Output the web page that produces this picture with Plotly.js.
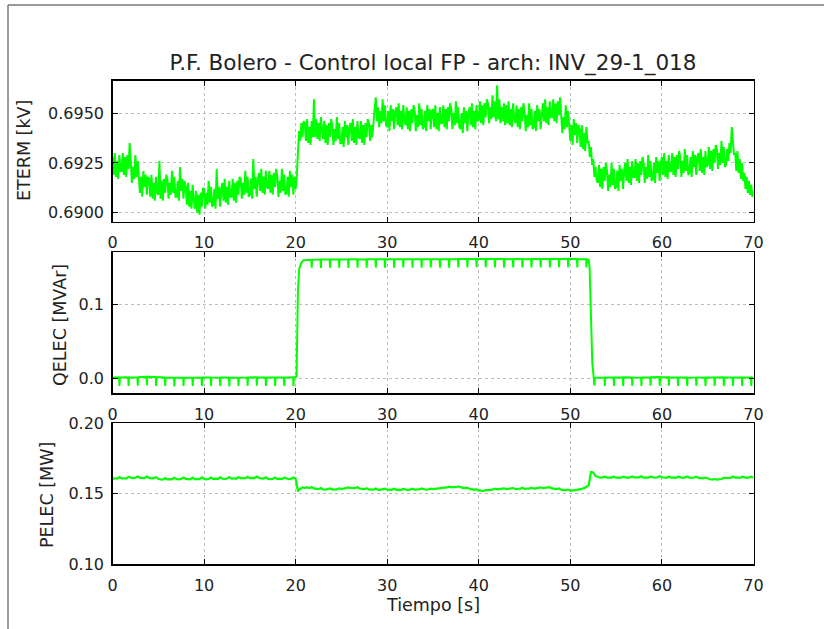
<!DOCTYPE html>
<html>
<head>
<meta charset="utf-8">
<script src="https://cdn.plot.ly/plotly-3.0.1.min.js"></script>
<style>
  html, body { margin: 0; padding: 0; background: #ffffff; }
  #chart { width: 824px; height: 629px; }
</style>
</head>
<body>
<div id="chart"></div>
<script>
// Sampling steps of the recorded signals (seconds)
const ETERM_STEP = 0.125;
const PELEC_STEP = 0.25;

// Tick values
const xTicks = [0, 10, 20, 30, 40, 50, 60, 70];
const etermTicks = [0.6900, 0.6925, 0.6950];
const qelecTicks = [0.0, 0.1];
const pelecTicks = [0.10, 0.15, 0.20];

// ETERM [kV], one row per second (8 samples per second)
const eterm = [
  0.6928,0.6919,0.6930,0.6918,0.6926,0.6917,0.6929,0.6921,
  0.6921,0.6930,0.6919,0.6928,0.6918,0.6929,0.6922,0.6935,
  0.6925,0.6915,0.6923,0.6917,0.6929,0.6918,0.6926,0.6916,
  0.6910,0.6918,0.6908,0.6921,0.6913,0.6919,0.6909,0.6918,
  0.6917,0.6908,0.6919,0.6907,0.6915,0.6906,0.6918,0.6910,
  0.6909,0.6926,0.6907,0.6916,0.6906,0.6917,0.6910,0.6919,
  0.6917,0.6907,0.6915,0.6909,0.6921,0.6910,0.6918,0.6908,
  0.6908,0.6916,0.6906,0.6923,0.6911,0.6917,0.6907,0.6916,
  0.6913,0.6904,0.6915,0.6903,0.6911,0.6902,0.6914,0.6906,
  0.6902,0.6911,0.6900,0.6909,0.6899,0.6910,0.6903,0.6912,
  0.6912,0.6902,0.6910,0.6904,0.6916,0.6905,0.6913,0.6903,
  0.6904,0.6912,0.6902,0.6922,0.6907,0.6913,0.6903,0.6912,
  0.6915,0.6906,0.6917,0.6905,0.6913,0.6904,0.6916,0.6908,
  0.6908,0.6917,0.6906,0.6915,0.6905,0.6916,0.6909,0.6918,
  0.6917,0.6907,0.6915,0.6909,0.6921,0.6910,0.6918,0.6908,
  0.6909,0.6917,0.6907,0.6927,0.6912,0.6918,0.6908,0.6917,
  0.6920,0.6911,0.6922,0.6910,0.6918,0.6909,0.6921,0.6913,
  0.6912,0.6921,0.6910,0.6919,0.6909,0.6920,0.6913,0.6922,
  0.6918,0.6908,0.6916,0.6910,0.6922,0.6911,0.6919,0.6909,
  0.6910,0.6918,0.6908,0.6921,0.6913,0.6919,0.6909,0.6918,
  0.6912,0.6919,0.6930,0.6941,0.6936,0.6945,0.6938,0.6946,
  0.6945,0.6936,0.6947,0.6935,0.6943,0.6934,0.6946,0.6938,
  0.6957,0.6938,0.6947,0.6937,0.6945,0.6936,0.6948,0.6940,
  0.6937,0.6946,0.6935,0.6944,0.6934,0.6945,0.6938,0.6947,
  0.6944,0.6934,0.6942,0.6936,0.6948,0.6937,0.6945,0.6935,
  0.6935,0.6943,0.6933,0.6946,0.6938,0.6944,0.6934,0.6943,
  0.6945,0.6936,0.6947,0.6935,0.6943,0.6934,0.6946,0.6938,
  0.6937,0.6946,0.6935,0.6944,0.6934,0.6945,0.6938,0.6947,
  0.6945,0.6936,0.6944,0.6938,0.6947,0.6952,0.6958,0.6946,
  0.6953,0.6943,0.6951,0.6945,0.6957,0.6946,0.6954,0.6944,
  0.6943,0.6951,0.6941,0.6954,0.6946,0.6952,0.6942,0.6951,
  0.6953,0.6944,0.6955,0.6943,0.6951,0.6942,0.6954,0.6946,
  0.6944,0.6953,0.6942,0.6951,0.6941,0.6952,0.6945,0.6954,
  0.6951,0.6941,0.6949,0.6943,0.6955,0.6944,0.6952,0.6942,
  0.6943,0.6951,0.6941,0.6954,0.6946,0.6952,0.6942,0.6951,
  0.6952,0.6943,0.6954,0.6942,0.6950,0.6941,0.6953,0.6945,
  0.6945,0.6954,0.6943,0.6952,0.6942,0.6953,0.6946,0.6955,
  0.6952,0.6942,0.6950,0.6944,0.6956,0.6945,0.6953,0.6943,
  0.6942,0.6950,0.6940,0.6953,0.6945,0.6951,0.6941,0.6950,
  0.6953,0.6944,0.6955,0.6943,0.6951,0.6942,0.6954,0.6946,
  0.6947,0.6956,0.6945,0.6954,0.6944,0.6955,0.6948,0.6957,
  0.6955,0.6945,0.6953,0.6947,0.6959,0.6948,0.6956,0.6946,
  0.6964,0.6947,0.6957,0.6945,0.6953,0.6946,0.6955,0.6944,
  0.6954,0.6945,0.6956,0.6944,0.6952,0.6943,0.6955,0.6947,
  0.6945,0.6954,0.6943,0.6952,0.6942,0.6953,0.6946,0.6955,
  0.6951,0.6941,0.6949,0.6943,0.6955,0.6944,0.6952,0.6942,
  0.6943,0.6951,0.6941,0.6954,0.6946,0.6952,0.6942,0.6951,
  0.6955,0.6946,0.6957,0.6945,0.6953,0.6944,0.6956,0.6948,
  0.6948,0.6957,0.6946,0.6955,0.6945,0.6956,0.6949,0.6958,
  0.6950,0.6940,0.6948,0.6942,0.6954,0.6943,0.6951,0.6941,
  0.6936,0.6944,0.6934,0.6947,0.6939,0.6945,0.6935,0.6944,
  0.6942,0.6933,0.6944,0.6932,0.6940,0.6931,0.6943,0.6935,
  0.6936,0.6928,0.6933,0.6924,0.6927,0.6918,0.6923,0.6916,
  0.6915,0.6924,0.6913,0.6922,0.6912,0.6923,0.6916,0.6925,
  0.6921,0.6911,0.6919,0.6913,0.6925,0.6914,0.6922,0.6912,
  0.6913,0.6921,0.6911,0.6924,0.6916,0.6922,0.6912,0.6921,
  0.6925,0.6916,0.6927,0.6915,0.6923,0.6914,0.6926,0.6918,
  0.6918,0.6927,0.6916,0.6925,0.6915,0.6926,0.6919,0.6928,
  0.6925,0.6915,0.6923,0.6917,0.6929,0.6918,0.6926,0.6916,
  0.6917,0.6925,0.6915,0.6928,0.6920,0.6926,0.6916,0.6925,
  0.6928,0.6919,0.6930,0.6918,0.6926,0.6917,0.6929,0.6921,
  0.6921,0.6930,0.6919,0.6928,0.6918,0.6929,0.6922,0.6931,
  0.6928,0.6918,0.6926,0.6920,0.6932,0.6921,0.6929,0.6919,
  0.6920,0.6928,0.6918,0.6931,0.6923,0.6929,0.6919,0.6928,
  0.6930,0.6921,0.6932,0.6920,0.6928,0.6919,0.6931,0.6923,
  0.6924,0.6933,0.6922,0.6931,0.6921,0.6932,0.6925,0.6934,
  0.6932,0.6922,0.6930,0.6924,0.6936,0.6925,0.6933,0.6923,
  0.6924,0.6932,0.6926,0.6935,0.6930,0.6943,0.6934,0.6929,
  0.6930,0.6921,0.6931,0.6920,0.6927,0.6917,0.6925,0.6916,
  0.6920,0.6912,0.6918,0.6910,0.6916,0.6909,0.6914,0.6908,
  0.6911
];

// QELEC [MVAr]: sample times [s] and values, one row per second
const qelecTime = [
  0.00, 0.72, 0.76, 0.80,
  1.72, 1.76, 1.80,  2.72, 2.76, 2.80,  3.72, 3.76, 3.80,  4.72, 4.76, 4.80,
  5.72, 5.76, 5.80,  6.72, 6.76, 6.80,  7.72, 7.76, 7.80,  8.72, 8.76, 8.80,
  9.72, 9.76, 9.80,  10.72, 10.76, 10.80,  11.72, 11.76, 11.80,  12.72, 12.76, 12.80,
  13.72, 13.76, 13.80,  14.72, 14.76, 14.80,  15.72, 15.76, 15.80,  16.72, 16.76, 16.80,
  17.72, 17.76, 17.80,  18.72, 18.76, 18.80,  19.72, 19.76, 19.80,
  20.10, 20.25, 20.40, 20.60, 20.85,
  21.72, 21.76, 21.80,  22.72, 22.76, 22.80,  23.72, 23.76, 23.80,  24.72, 24.76, 24.80,
  25.72, 25.76, 25.80,  26.72, 26.76, 26.80,  27.72, 27.76, 27.80,  28.72, 28.76, 28.80,
  29.72, 29.76, 29.80,  30.72, 30.76, 30.80,  31.72, 31.76, 31.80,  32.72, 32.76, 32.80,
  33.72, 33.76, 33.80,  34.72, 34.76, 34.80,  35.72, 35.76, 35.80,  36.72, 36.76, 36.80,
  37.72, 37.76, 37.80,  38.72, 38.76, 38.80,  39.72, 39.76, 39.80,  40.72, 40.76, 40.80,
  41.72, 41.76, 41.80,  42.72, 42.76, 42.80,  43.72, 43.76, 43.80,  44.72, 44.76, 44.80,
  45.72, 45.76, 45.80,  46.72, 46.76, 46.80,  47.72, 47.76, 47.80,  48.72, 48.76, 48.80,
  49.72, 49.76, 49.80,  50.72, 50.76, 50.80,  51.72, 51.76, 51.80,
  52.00, 52.10, 52.25, 52.40, 52.55, 52.62, 52.68,
  53.72, 53.76, 53.80,  54.72, 54.76, 54.80,  55.72, 55.76, 55.80,  56.72, 56.76, 56.80,
  57.72, 57.76, 57.80,  58.72, 58.76, 58.80,  59.72, 59.76, 59.80,  60.72, 60.76, 60.80,
  61.72, 61.76, 61.80,  62.72, 62.76, 62.80,  63.72, 63.76, 63.80,  64.72, 64.76, 64.80,
  65.72, 65.76, 65.80,  66.72, 66.76, 66.80,  67.72, 67.76, 67.80,  68.72, 68.76, 68.80,
  69.72, 69.76, 69.80,
  70.00
];
const qelec = [
  0.0010, 0.0012, -0.0105, 0.0012,
  0.0013, -0.0105, 0.0012,  0.0015, -0.0100, 0.0016,  0.0020, -0.0095, 0.0020,  0.0018, -0.0105, 0.0016,
  0.0012, -0.0105, 0.0010,  0.0008, -0.0110, 0.0007,  0.0006, -0.0105, 0.0007,  0.0008, -0.0105, 0.0008,
  0.0010, -0.0105, 0.0010,  0.0010, -0.0105, 0.0009,  0.0010, -0.0105, 0.0011,  0.0010, -0.0110, 0.0009,
  0.0008, -0.0105, 0.0009,  0.0011, -0.0105, 0.0012,  0.0013, -0.0100, 0.0012,  0.0011, -0.0105, 0.0010,
  0.0010, -0.0105, 0.0011,  0.0010, -0.0105, 0.0010,  0.0011, -0.0105, 0.0010,
  0.0020, 0.1200, 0.1480, 0.1555, 0.1595,
  0.1603, 0.1495, 0.1604,  0.1605, 0.1490, 0.1606,  0.1606, 0.1495, 0.1607,  0.1607, 0.1495, 0.1606,
  0.1607, 0.1493, 0.1608,  0.1608, 0.1495, 0.1607,  0.1607, 0.1495, 0.1608,  0.1608, 0.1497, 0.1609,
  0.1609, 0.1495, 0.1608,  0.1608, 0.1495, 0.1609,  0.1609, 0.1497, 0.1608,  0.1609, 0.1495, 0.1610,
  0.1610, 0.1495, 0.1609,  0.1609, 0.1497, 0.1610,  0.1610, 0.1495, 0.1609,  0.1609, 0.1495, 0.1610,
  0.1610, 0.1497, 0.1611,  0.1611, 0.1498, 0.1612,  0.1612, 0.1500, 0.1613,  0.1613, 0.1500, 0.1612,
  0.1612, 0.1498, 0.1611,  0.1611, 0.1497, 0.1611,  0.1610, 0.1497, 0.1611,  0.1611, 0.1498, 0.1610,
  0.1611, 0.1497, 0.1612,  0.1612, 0.1499, 0.1612,  0.1613, 0.1499, 0.1612,  0.1613, 0.1500, 0.1613,
  0.1613, 0.1500, 0.1614,  0.1613, 0.1499, 0.1612,  0.1610, 0.1497, 0.1609,
  0.1600, 0.1500, 0.0850, 0.0200, 0.0020, -0.0095, 0.0008,
  0.0010, -0.0105, 0.0012,  0.0012, -0.0105, 0.0011,  0.0011, -0.0105, 0.0012,  0.0010, -0.0105, 0.0009,
  0.0011, -0.0105, 0.0012,  0.0015, -0.0100, 0.0015,  0.0016, -0.0100, 0.0015,  0.0014, -0.0100, 0.0013,
  0.0012, -0.0105, 0.0012,  0.0011, -0.0105, 0.0010,  0.0009, -0.0105, 0.0010,  0.0009, -0.0105, 0.0010,
  0.0011, -0.0105, 0.0012,  0.0013, -0.0105, 0.0012,  0.0011, -0.0105, 0.0012,  0.0011, -0.0105, 0.0010,
  0.0011, -0.0105, 0.0012,
  0.0005
];

// PELEC [MW], one row per second (4 samples per second)
const pelec = [
  0.1606, 0.1610, 0.1608, 0.1618,
  0.1610, 0.1612, 0.1609, 0.1620,
  0.1613, 0.1611, 0.1614, 0.1622,
  0.1612, 0.1614, 0.1611, 0.1624,
  0.1613, 0.1610, 0.1611, 0.1618,
  0.1606, 0.1602, 0.1600, 0.1612,
  0.1602, 0.1604, 0.1603, 0.1614,
  0.1605, 0.1603, 0.1606, 0.1616,
  0.1606, 0.1604, 0.1602, 0.1615,
  0.1603, 0.1606, 0.1604, 0.1616,
  0.1605, 0.1603, 0.1606, 0.1615,
  0.1604, 0.1607, 0.1605, 0.1617,
  0.1607, 0.1605, 0.1608, 0.1618,
  0.1608, 0.1610, 0.1607, 0.1619,
  0.1610, 0.1612, 0.1609, 0.1621,
  0.1611, 0.1613, 0.1612, 0.1622,
  0.1612, 0.1610, 0.1608, 0.1617,
  0.1606, 0.1604, 0.1606, 0.1615,
  0.1605, 0.1607, 0.1604, 0.1614,
  0.1606, 0.1604, 0.1607, 0.1616,
  0.1608, 0.1518, 0.1535, 0.1545,
  0.1542, 0.1546, 0.1540, 0.1548,
  0.1538, 0.1535, 0.1533, 0.1541,
  0.1531, 0.1530, 0.1532, 0.1538,
  0.1530, 0.1532, 0.1531, 0.1539,
  0.1535, 0.1537, 0.1540, 0.1545,
  0.1541, 0.1543, 0.1540, 0.1548,
  0.1537, 0.1535, 0.1533, 0.1540,
  0.1530, 0.1532, 0.1529, 0.1538,
  0.1530, 0.1528, 0.1531, 0.1537,
  0.1529, 0.1531, 0.1528, 0.1536,
  0.1528, 0.1530, 0.1527, 0.1535,
  0.1529, 0.1527, 0.1530, 0.1536,
  0.1530, 0.1528, 0.1531, 0.1538,
  0.1531, 0.1529, 0.1532, 0.1537,
  0.1533, 0.1535, 0.1534, 0.1541,
  0.1540, 0.1543, 0.1545, 0.1550,
  0.1546, 0.1548, 0.1547, 0.1553,
  0.1545, 0.1542, 0.1540, 0.1544,
  0.1535, 0.1532, 0.1528, 0.1533,
  0.1524, 0.1522, 0.1521, 0.1526,
  0.1525, 0.1528, 0.1530, 0.1536,
  0.1531, 0.1533, 0.1532, 0.1539,
  0.1533, 0.1535, 0.1534, 0.1541,
  0.1534, 0.1536, 0.1535, 0.1543,
  0.1535, 0.1537, 0.1536, 0.1544,
  0.1537, 0.1539, 0.1540, 0.1546,
  0.1541, 0.1543, 0.1541, 0.1547,
  0.1538, 0.1535, 0.1533, 0.1538,
  0.1529, 0.1527, 0.1525, 0.1530,
  0.1523, 0.1522, 0.1524, 0.1528,
  0.1530, 0.1535, 0.1540, 0.1548,
  0.1560, 0.1655, 0.1652, 0.1625,
  0.1617, 0.1614, 0.1616, 0.1622,
  0.1615, 0.1613, 0.1615, 0.1621,
  0.1614, 0.1616, 0.1613, 0.1622,
  0.1615, 0.1613, 0.1616, 0.1623,
  0.1616, 0.1614, 0.1617, 0.1624,
  0.1615, 0.1617, 0.1614, 0.1622,
  0.1616, 0.1614, 0.1617, 0.1624,
  0.1617, 0.1615, 0.1613, 0.1622,
  0.1614, 0.1616, 0.1613, 0.1621,
  0.1615, 0.1613, 0.1616, 0.1623,
  0.1614, 0.1612, 0.1615, 0.1621,
  0.1613, 0.1611, 0.1609, 0.1615,
  0.1606, 0.1603, 0.1601, 0.1605,
  0.1600, 0.1602, 0.1605, 0.1613,
  0.1612, 0.1614, 0.1612, 0.1622,
  0.1614, 0.1616, 0.1613, 0.1621,
  0.1615, 0.1613, 0.1616, 0.1622,
  0.1614
];

const timeOf = (arr, step) => arr.map((_, i) => i * step);

const W = 824, H = 629;
const px = v => v / W;           // horizontal pixel -> paper fraction
const py = v => 1 - v / H;       // vertical pixel (from top) -> paper fraction

const FONT = 'DejaVu Sans, sans-serif';
const GREEN = '#00ff00';
const TXT = '#222222';

function xAxis(anchor) {
  return {
    anchor: anchor,
    domain: [px(112.5), px(753.5)],
    range: [0, 70],
    tickvals: xTicks,
    ticktext: xTicks.map(String),
    ticks: 'inside', ticklen: 5, tickwidth: 1, tickcolor: '#000',
    showline: true, linecolor: '#000', linewidth: 1.3, mirror: 'ticks',
    showgrid: true, gridcolor: '#bdbdbd', griddash: 'dot', gridwidth: 1,
    zeroline: false,
    ticklabelstandoff: 6,
    tickfont: { family: FONT, size: 16, color: TXT }
  };
}
function yAxis(anchor, top, bottom, range, ticks, fmt) {
  return {
    anchor: anchor,
    domain: [py(bottom), py(top)],
    range: range,
    tickvals: ticks,
    ticktext: ticks.map(v => v.toFixed(fmt)),
    ticks: 'inside', ticklen: 5, tickwidth: 1, tickcolor: '#000',
    showline: true, linecolor: '#000', linewidth: 1.3, mirror: 'ticks',
    showgrid: true, gridcolor: '#bdbdbd', griddash: 'dot', gridwidth: 1,
    zeroline: false,
    ticklabelstandoff: 4,
    tickfont: { family: FONT, size: 16, color: TXT }
  };
}

const traces = [
  { x: timeOf(eterm, ETERM_STEP), y: eterm, xaxis: 'x', yaxis: 'y', type: 'scatter', mode: 'lines',
    line: { color: GREEN, width: 2 }, name: 'ETERM' },
  { x: qelecTime, y: qelec, xaxis: 'x2', yaxis: 'y2', type: 'scatter', mode: 'lines',
    line: { color: GREEN, width: 2 }, name: 'QELEC' },
  { x: timeOf(pelec, PELEC_STEP), y: pelec, xaxis: 'x3', yaxis: 'y3', type: 'scatter', mode: 'lines',
    line: { color: GREEN, width: 2.2 }, name: 'PELEC' }
];

function yTitle(text, xPix, yPix) {
  return { text: text, xref: 'paper', yref: 'paper', x: px(xPix), y: py(yPix),
    textangle: -90, showarrow: false, xanchor: 'center', yanchor: 'middle',
    font: { family: FONT, size: 17.5, color: TXT } };
}

const layout = {
  width: W, height: H,
  margin: { l: 0, r: 0, t: 0, b: 0 },
  paper_bgcolor: '#ffffff', plot_bgcolor: '#ffffff',
  showlegend: false,
  font: { family: FONT, color: TXT },
  title: {
    text: 'P.F. Bolero - Control local FP - arch: INV_29-1_018',
    font: { family: FONT, size: 21.5, color: TXT },
    x: px(433), xanchor: 'center', xref: 'paper',
    y: py(62), yanchor: 'middle', yref: 'paper'
  },
  xaxis: xAxis('y'),
  yaxis: yAxis('x', 80.5, 221.5, [0.68956, 0.69664], etermTicks, 4),
  xaxis2: xAxis('y2'),
  yaxis2: yAxis('x2', 252.3, 393.3, [-0.0203, 0.1703], qelecTicks, 1),
  xaxis3: xAxis('y3'),
  yaxis3: yAxis('x3', 423.3, 564.3, [0.10, 0.20], pelecTicks, 2),
  annotations: [
    yTitle('ETERM [kV]', 24, 151),
    yTitle('QELEC [MVAr]', 60, 325),
    yTitle('PELEC [MW]', 47, 495),
    { text: 'Tiempo [s]', xref: 'paper', yref: 'paper', x: px(433), y: py(605),
      showarrow: false, xanchor: 'center', yanchor: 'middle',
      font: { family: FONT, size: 17.5, color: TXT } }
  ],
  shapes: [
    { type: 'line', xref: 'paper', yref: 'paper', x0: px(8), x1: 1, y0: py(5), y1: py(5),
      line: { color: '#7a7a7a', width: 1.5 } },
    { type: 'line', xref: 'paper', yref: 'paper', x0: px(8), x1: px(8), y0: 0, y1: py(5),
      line: { color: '#7a7a7a', width: 1.5 } }
  ]
};

Plotly.newPlot('chart', traces, layout, { staticPlot: true, displayModeBar: false });
</script>
</body>
</html>
